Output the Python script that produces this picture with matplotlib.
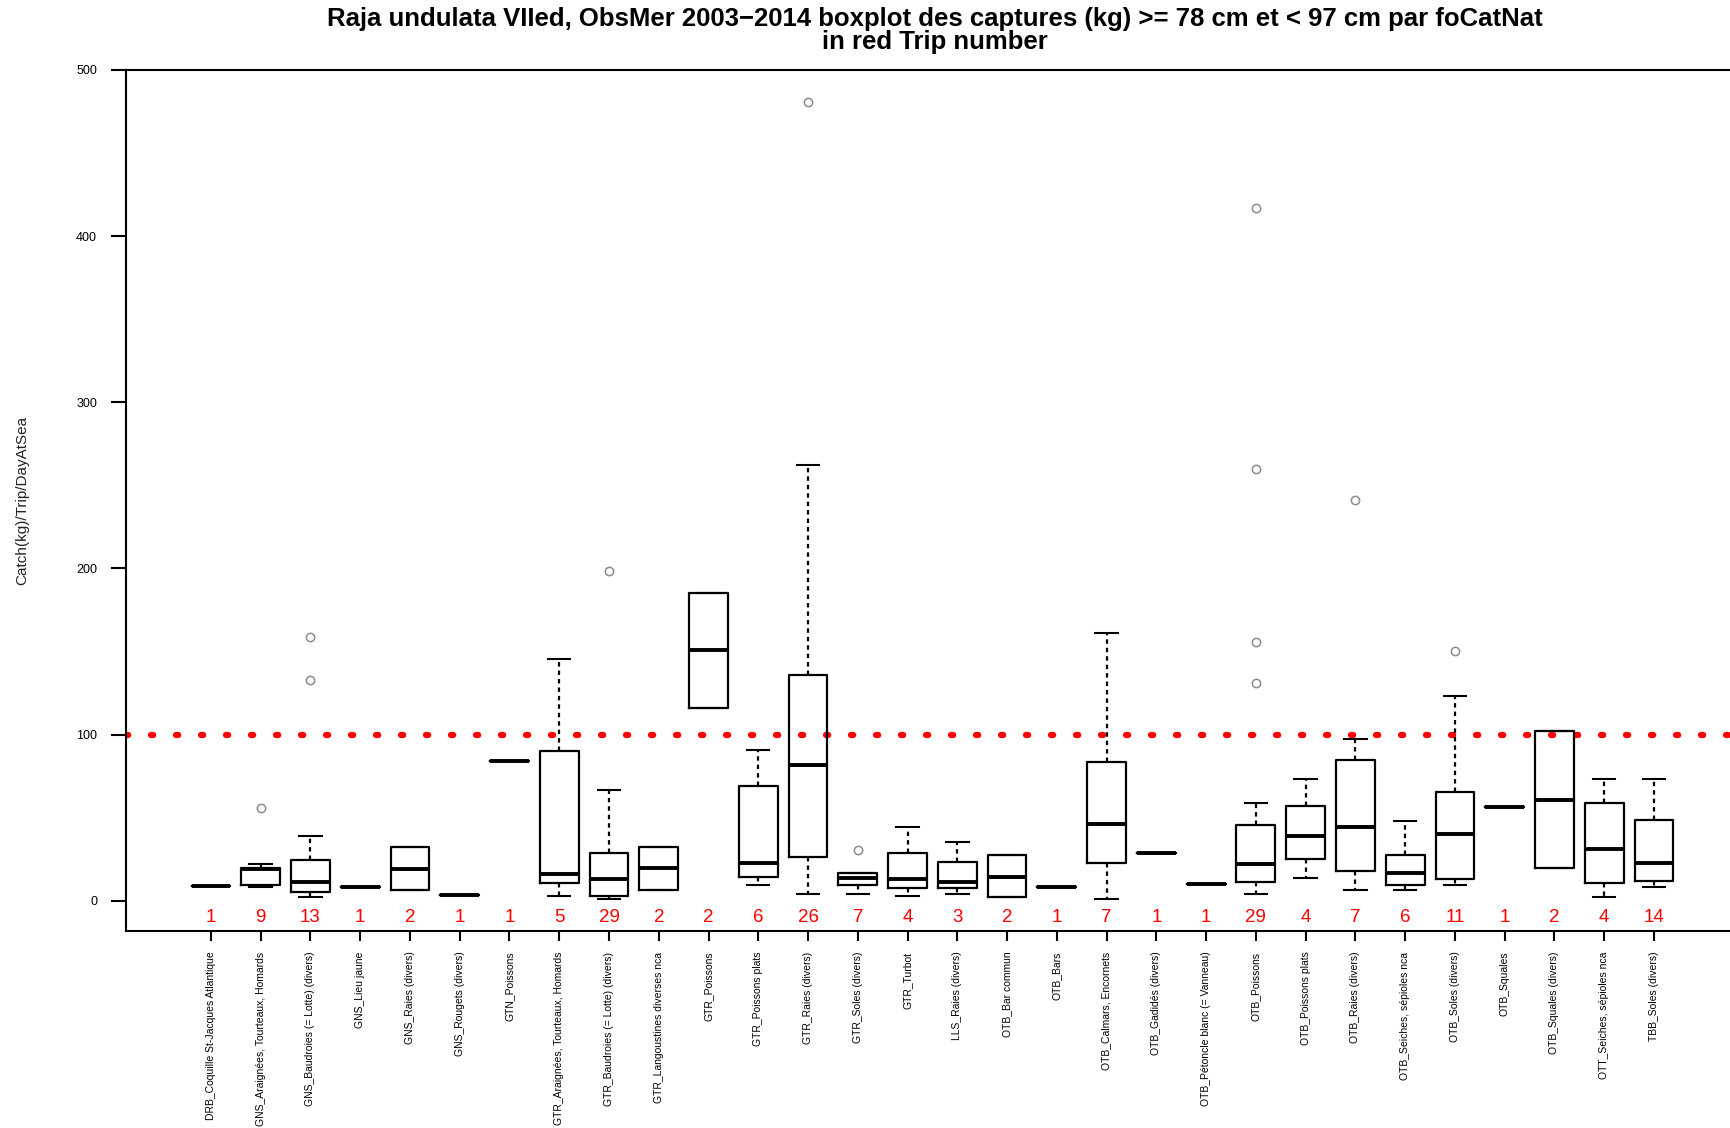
import matplotlib
matplotlib.use("Agg")
import matplotlib.pyplot as plt
import numpy as np

plt.rcParams['font.family'] = ['Liberation Sans', 'DejaVu Sans']

# fishing activity categories (foCatNat)
labels = ['DRB_Coquille St-Jacques Atlantique', 'GNS_Araignées, Tourteaux, Homards',
          'GNS_Baudroies (= Lotte) (divers)', 'GNS_Lieu jaune', 'GNS_Raies (divers)',
          'GNS_Rougets (divers)', 'GTN_Poissons', 'GTR_Araignées, Tourteaux, Homards',
          'GTR_Baudroies (= Lotte) (divers)', 'GTR_Langoustines diverses nca',
          'GTR_Poissons', 'GTR_Poissons plats', 'GTR_Raies (divers)', 'GTR_Soles (divers)',
          'GTR_Turbot', 'LLS_Raies (divers)', 'OTB_Bar commun', 'OTB_Bars',
          'OTB_Calmars, Encornets', 'OTB_Gadidés (divers)', 'OTB_Pétoncle blanc (= Vanneau)',
          'OTB_Poissons', 'OTB_Poissons plats', 'OTB_Raies (divers)',
          'OTB_Seiches, sépioles nca', 'OTB_Soles (divers)', 'OTB_Squales',
          'OTB_Squales (divers)', 'OTT_Seiches, sépioles nca', 'TBB_Soles (divers)']

# trip numbers (in red)
counts = [1, 9, 13, 1, 2, 1, 1, 5, 29, 2, 2, 6, 26, 7, 4, 3, 2, 1, 7, 1,
          1, 29, 4, 7, 6, 11, 1, 2, 4, 14]

# box statistics
med = [9, 19, 11.6, 8.2, 19.4, 3.6, 84, 16.4, 13.1, 19.5, 151, 22.7, 82, 14, 13.1,
       11.6, 14.6, 8.6, 46.4, 28.5, 10, 21.9, 39, 44.4, 17, 40.4, 56.2, 60.7, 31.3, 22.7]
q1 = [9, 9.6, 5.4, 8.2, 6.4, 3.6, 84, 10.6, 3.0, 6.6, 115.9, 14.3, 26.3, 9.6, 7.6,
      7.6, 2.0, 8.6, 22.5, 28.5, 10, 11.3, 25.2, 17.9, 9.6, 13, 56.2, 19.7, 11, 11.9]
q3 = [9, 19.7, 24.3, 8.2, 32.1, 3.6, 84, 90.2, 28.7, 32.1, 185.4, 68.9, 135.8, 16.7, 28.7,
      23.1, 27.3, 8.6, 83.4, 28.5, 10, 45.7, 57, 84.8, 27.7, 65.5, 56.2, 102, 58.9, 48.8]
whislo = [9, 8.6, 2, 8.2, 6.4, 3.6, 84, 3, 1.0, 6.6, 115.9, 9.6, 4.2, 4.2, 3.0,
          4.2, 2.0, 8.6, 1.3, 28.5, 10, 4, 13.9, 6.6, 6.6, 9.8, 56.2, 19.7, 2, 8.6]
whishi = [9, 22, 38.7, 8.2, 32.1, 3.6, 84, 145.7, 66.9, 32.1, 185.4, 90.7, 262.3, 16.7, 44.4,
          35.5, 27.3, 8.6, 161, 28.5, 10, 59, 73.5, 97.4, 47.8, 123.5, 56.2, 102, 73.3, 73.3]
outliers = [[], [56], [159, 133], [], [], [], [], [], [198.7], [], [], [], [481], [30.7], [],
            [], [], [], [], [], [], [417, 259.6, 155.6, 131], [], [241], [], [150.3], [], [], [], []]

threshold = 100

stats = []
for i in range(len(labels)):
    stats.append(dict(med=med[i], q1=q1[i], q3=q3[i], whislo=whislo[i],
                      whishi=whishi[i], fliers=outliers[i]))

fig = plt.figure(figsize=(17.31, 11.28), dpi=100)
ax = fig.add_axes([0.0728, 0.1749, 0.9402, 0.7631])

pos = np.arange(1, len(labels) + 1)
ax.bxp(stats, positions=pos, widths=0.78, capwidths=0.45, manage_ticks=False,
       boxprops=dict(color='black', linewidth=1.6),
       medianprops=dict(color='black', linewidth=2.8, solid_capstyle='butt'),
       whiskerprops=dict(color='black', linewidth=1.6, linestyle=(0, (2.0, 1.8))),
       capprops=dict(color='black', linewidth=1.5),
       flierprops=dict(marker='o', markerfacecolor='none', markeredgecolor='#8c8c8c',
                       markersize=6, markeredgewidth=1.1))

ax.axhline(threshold, color='red', lw=4.5, linestyle=(0, (0.35, 3.65)),
           dash_capstyle='round', zorder=1)

for x, n in zip(pos, counts):
    ax.text(x, -12.6, str(n), color='red', fontsize=13.5, ha='center', va='baseline')

ax.set_xlim(-0.706, 32)
ax.set_ylim(-18, 500)
ax.set_xticks(pos)
ax.set_xticklabels(labels, rotation=90, fontsize=7.5, va='top', ha='center')
ax.set_yticks([0, 100, 200, 300, 400, 500])
ax.tick_params(axis='x', length=7, width=1.5, pad=8)
ax.tick_params(axis='y', length=10.8, width=1.5, pad=10, labelsize=9)
for s in ax.spines.values():
    s.set_linewidth(1.5)

fig.text(22 / 1731, 1 - 500 / 1128, 'Catch(kg)/Trip/DayAtSea', rotation=90,
         ha='center', va='center', fontsize=11, color='#222222')
fig.text(935 / 1731, 1 - 19 / 1128,
         'Raja undulata VIIed, ObsMer 2003\u22122014 boxplot des captures (kg) >= 78 cm et < 97 cm par foCatNat',
         ha='center', va='center', fontsize=18.5, fontweight='bold')
fig.text(935 / 1731, 1 - 42 / 1128, 'in red Trip number',
         ha='center', va='center', fontsize=18.5, fontweight='bold')

fig.savefig('out.png', dpi=100)
